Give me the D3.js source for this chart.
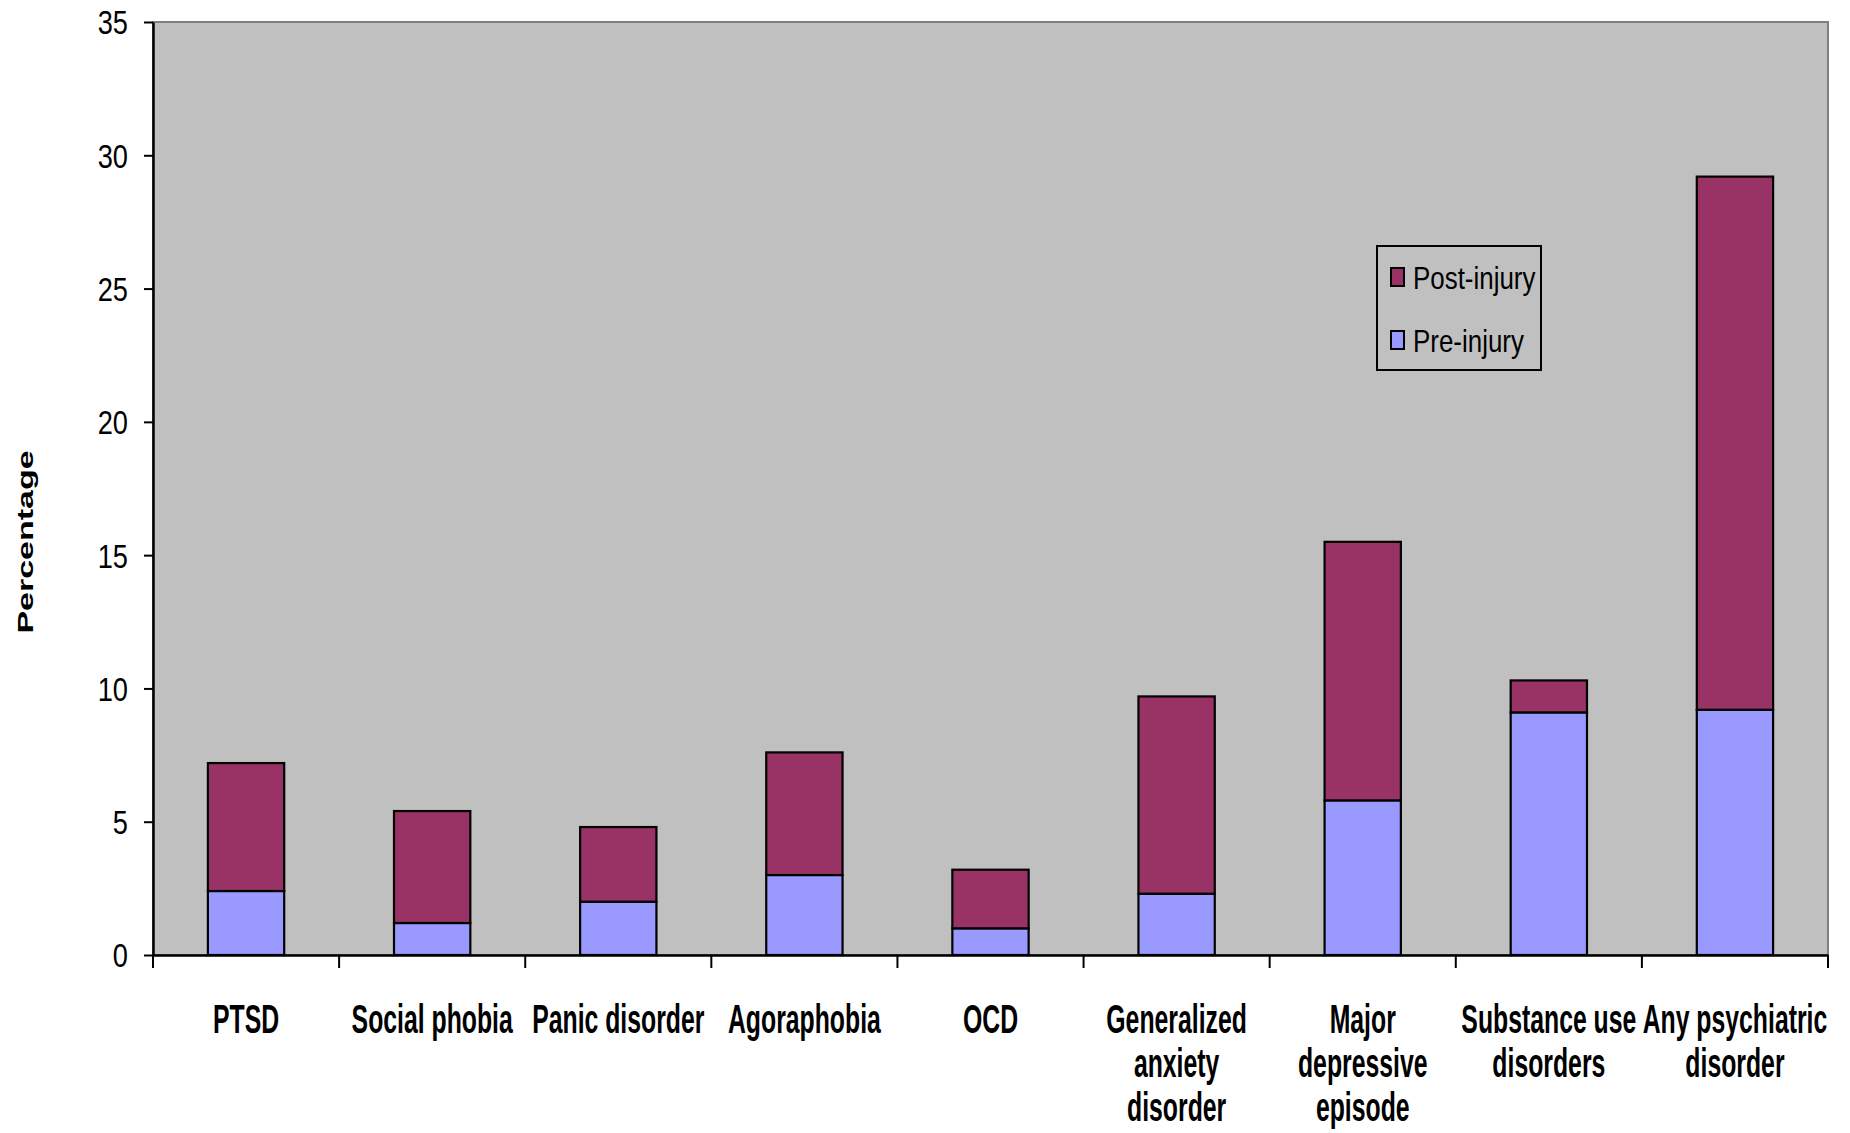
<!DOCTYPE html>
<html>
<head>
<meta charset="utf-8">
<script src="https://cdn.jsdelivr.net/npm/d3@7"></script>
<style>
  html, body { margin: 0; padding: 0; background: #ffffff; }
  svg { display: block; }
  text { font-family: Arial, "Liberation Sans", sans-serif; fill: #000; }
</style>
</head>
<body>
<svg id="chart" width="1850" height="1133"></svg>
<script>
// Prevalence of psychiatric disorders before and after injury (stacked, %)
const categories = [
  "PTSD", "Social phobia", "Panic disorder", "Agoraphobia", "OCD",
  "Generalized anxiety disorder", "Major depressive episode",
  "Substance use disorders", "Any psychiatric disorder"
];
const categoryLabelLines = [
  ["PTSD"], ["Social phobia"], ["Panic disorder"], ["Agoraphobia"], ["OCD"],
  ["Generalized", "anxiety", "disorder"],
  ["Major", "depressive", "episode"],
  ["Substance use", "disorders"],
  ["Any psychiatric", "disorder"]
];
// Pre-injury prevalence (lower segment)
const preInjury  = [2.4, 1.2, 2.0, 3.0, 1.0, 2.3, 5.8, 9.1, 9.2];
// Additional post-injury prevalence (upper segment, stacked on pre-injury)
const postInjury = [4.8, 4.2, 2.8, 4.6, 2.2, 7.4, 9.7, 1.2, 20.0];
const seriesKeys   = ["pre", "post"];
const seriesNames  = { pre: "Pre-injury", post: "Post-injury" };
const seriesColors = { pre: "#9999FF", post: "#993366" };
const yTicks = [0, 5, 10, 15, 20, 25, 30, 35];
const yAxisTitle = "Percentage";

const rows = categories.map((c, i) => ({ category: c, pre: preInjury[i], post: postInjury[i] }));

const svg = d3.select("#chart");
const plot = { left: 153, right: 1828, top: 22, bottom: 955 };

const x = d3.scaleBand()
  .domain(categories)
  .range([plot.left, plot.right])
  .paddingInner(0.59)
  .paddingOuter(0.295);

const y = d3.scaleLinear()
  .domain([0, 35])
  .range([plot.bottom, plot.top]);

// Plot area background
svg.append("rect")
  .attr("x", plot.left).attr("y", plot.top)
  .attr("width", plot.right - plot.left)
  .attr("height", plot.bottom - plot.top)
  .attr("fill", "#C0C0C0")
  .attr("stroke", "#808080")
  .attr("stroke-width", 2);

// Stacked bars
const stacked = d3.stack().keys(seriesKeys)(rows);
svg.append("g").selectAll("g")
  .data(stacked)
  .join("g")
  .attr("fill", s => seriesColors[s.key])
  .selectAll("rect")
  .data(s => s)
  .join("rect")
  .attr("x", d => x(d.data.category))
  .attr("width", x.bandwidth())
  .attr("y", d => y(d[1]))
  .attr("height", d => y(d[0]) - y(d[1]))
  .attr("stroke", "#000")
  .attr("stroke-width", 2.2);

// Y axis
const yAxis = svg.append("g")
  .attr("transform", `translate(${plot.left},0)`)
  .call(d3.axisLeft(y).tickValues(yTicks).tickSize(9).tickSizeOuter(0).tickFormat(d3.format("d")));
yAxis.select(".domain").attr("stroke", "#000").attr("stroke-width", 2.5);
yAxis.selectAll(".tick line").attr("stroke", "#000").attr("stroke-width", 2);
const tickScaleX = 0.8;
yAxis.selectAll(".tick text")
  .attr("font-size", 34)
  .attr("font-family", "Arial, 'Liberation Sans', sans-serif")
  .attr("text-anchor", "end")
  .attr("dy", "0.35em")
  .attr("x", -25 / tickScaleX)
  .attr("transform", `scale(${tickScaleX},1)`);

// X axis line with ticks on category boundaries
const xAxis = svg.append("g")
  .attr("transform", `translate(0,${plot.bottom})`)
  .call(d3.axisBottom(x).tickSize(0).tickSizeOuter(0).tickFormat(""));
xAxis.select(".domain").attr("stroke", "#000").attr("stroke-width", 2.5);
const step = x.step();
const boundaries = d3.range(categories.length + 1).map(i => plot.left + i * step);
xAxis.selectAll("line.boundary")
  .data(boundaries)
  .join("line")
  .attr("class", "boundary")
  .attr("x1", d => d).attr("x2", d => d)
  .attr("y1", 0).attr("y2", 13)
  .attr("stroke", "#000").attr("stroke-width", 2);

// Category labels (bold, condensed)
const catScaleX = 0.62;
const catGroups = svg.append("g").selectAll("g")
  .data(categories)
  .join("g")
  .attr("transform", (d) => `translate(${x(d) + x.bandwidth() / 2},1033) scale(${catScaleX},1)`);
catGroups.each(function(d, i) {
  d3.select(this).selectAll("text")
    .data(categoryLabelLines[i])
    .join("text")
    .attr("x", 0)
    .attr("y", (t, j) => j * 44)
    .attr("text-anchor", "middle")
    .attr("font-size", 40)
    .attr("font-weight", "bold")
    .text(t => t);
});

// Y axis title
svg.append("g")
  .attr("transform", "translate(33,542) rotate(-90) scale(1,0.67)")
  .append("text")
  .attr("text-anchor", "middle")
  .attr("font-size", 34)
  .attr("font-weight", "bold")
  .text(yAxisTitle);

// Legend
const legend = svg.append("g");
legend.append("rect")
  .attr("x", 1377).attr("y", 246)
  .attr("width", 164).attr("height", 124)
  .attr("fill", "none")
  .attr("stroke", "#000").attr("stroke-width", 2);
const legendKeys = ["post", "pre"];
const legendRows = legend.selectAll("g.item")
  .data(legendKeys)
  .join("g")
  .attr("class", "item")
  .attr("transform", (k, i) => `translate(1391,${268 + i * 63})`);
legendRows.append("rect")
  .attr("width", 13).attr("height", 18)
  .attr("fill", k => seriesColors[k])
  .attr("stroke", "#000").attr("stroke-width", 2);
legendRows.append("g")
  .attr("transform", "translate(22,21) scale(0.85,1)")
  .append("text")
  .attr("font-size", 30.5)
  .text(k => seriesNames[k]);
</script>
</body>
</html>
